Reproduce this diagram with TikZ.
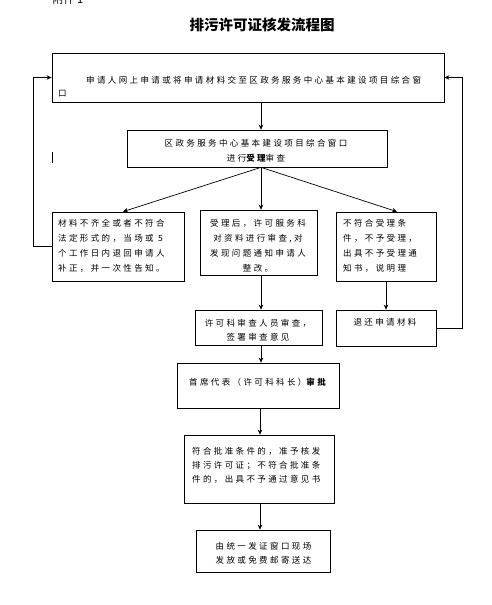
\documentclass[tikz,border=0pt]{standalone}
\usepackage{fontspec}
\usetikzlibrary{arrows.meta,calc}
\newfontfamily\cjk[LetterSpace=28]{Noto Sans CJK SC}
\newfontfamily\cjkt{Noto Sans CJK SC}
\begin{document}
\begin{tikzpicture}[x=1pt,y=-1pt,
  box/.style={draw,line width=0.7pt,inner sep=0pt},
  txt/.style={inner sep=0pt,font=\cjk\fontsize{8.5}{15}\selectfont},
  arr/.style={line width=0.7pt,-{Stealth[length=5pt,width=4.5pt]}},
  ln/.style={line width=0.7pt}]
\useasboundingbox (0,0) rectangle (491,605);
% header
\node[inner sep=0pt,font=\cjkt\fontsize{11}{13}\selectfont] (att) at (68,-1) {附件 1};
\node[inner sep=0pt,font=\cjkt\bfseries\fontsize{14.5}{16}\selectfont] (title) at (262,25) {排污许可证核发流程图};
% boxes
\node[box,minimum width=392,minimum height=49] (b1) at (248,77.5) {};
\node[box,minimum width=260,minimum height=37] (b2) at (257,148.5) {};
\node[box,minimum width=132,minimum height=69] (b3) at (118,246.5) {};
\node[box,minimum width=117,minimum height=65] (b4) at (258.5,242.5) {};
\node[box,minimum width=100,minimum height=69] (b5) at (386,246.5) {};
\node[box,minimum width=127,minimum height=35] (b6) at (258.5,327.5) {};
\node[box,minimum width=100,minimum height=36] (b7) at (386,328) {};
\node[box,minimum width=162,minimum height=45] (b8) at (258,385.5) {};
\node[box,minimum width=150,minimum height=68] (b9) at (259,469) {};
\node[box,minimum width=134,minimum height=42] (b10) at (263,551) {};
% texts
\node[txt,anchor=west] (t1a) at (86,80) {申请人网上申请或将申请材料交至区政务服务中心基本建设项目综合窗};
\node[txt,anchor=west] (t1b) at (58,94) {口};
\node[txt,align=center] (t2) at (256,150.5) {区政务服务中心基本建设项目综合窗口\\进行{\bfseries 受理}审查};
\node[txt,align=left,anchor=west] (t3) at (58,245.5) {材料不齐全或者不符合\\法定形式的，当场或 5\\个工作日内退回申请人\\补正，并一次性告知。};
\node[txt,align=center] (t4) at (258,245.5) {受理后，许可服务科\\对资料进行审查,对\\发现问题通知申请人\\整改。};
\node[txt,align=left,anchor=west] (t5) at (343,245.5) {不符合受理条\\件，不予受理，\\出具不予受理通\\知书，说明理};
\node[txt,align=center,font=\cjk\fontsize{8.5}{14}\selectfont] (t6) at (258,330) {许可科审查人员审查，\\签署审查意见};
\node[txt] (t7) at (385,322) {退还申请材料};
\node[txt] (t8) at (257.5,382) {首席代表（许可科科长）{\bfseries 审批}};
\node[txt,align=left,anchor=west,font=\cjk\fontsize{8.5}{14}\selectfont] (t9) at (192,465) {符合批准条件的，准予核发\\排污许可证；不符合批准条\\件的，出具不予通过意见书};
\node[txt,align=center,font=\cjk\fontsize{8.5}{13.5}\selectfont] (t10) at (263.5,553.5) {由统一发证窗口现场\\发放或免费邮寄送达};
% helper coordinates
\coordinate (mx) at (261,0);
\coordinate (lx) at (33,0);
\coordinate (rx) at (462,0);
\coordinate (c3) at (123,0);
\coordinate (c5) at (397,0);
% connectors
\draw[arr] (b1.south -| mx) -- (b2.north -| mx);
\draw[arr] (b2.south -| mx) -- (b3.north -| c3);
\draw[arr] (b2.south -| mx) -- (b4.north -| mx);
\draw[arr] (b2.south -| mx) -- (b5.north -| c5);
\draw[arr] (b4.south -| mx) -- (b6.north -| mx);
\draw[arr] (b5.south) -- (b7.north);
\draw[arr] (b6.south -| mx) -- (b8.north -| mx);
\draw[arr] ($(b8.south -| mx)+(-1,0)$) -- ($(b9.north -| mx)+(-1,0)$);
\draw[arr] ($(b9.south -| mx)+(-1,0)$) -- ($(b10.north -| mx)+(-1,0)$);
\draw[arr] (b3.west) -| (lx |- b1.west) -- (b1.west);
\draw[arr] (b7.east) -| (rx |- b1.east) -- (b1.east);
% stray cursor mark
\coordinate (cm1) at (52,152);
\coordinate (cm2) at (52,163);
\draw[ln] (cm1) -- (cm2);
\end{tikzpicture}
\end{document}
